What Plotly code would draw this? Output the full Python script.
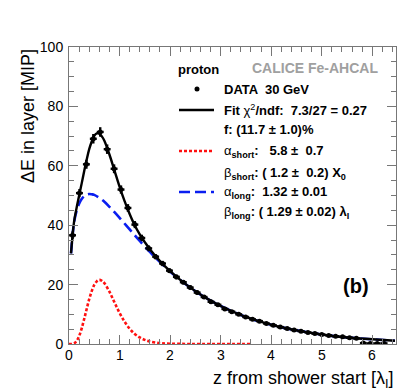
import plotly.graph_objects as go

# ---- data points (z from shower start [lambda_I], Delta E [MIP]) ----
z_data = [0.07, 0.207, 0.344, 0.481, 0.618, 0.755, 0.892, 1.029, 1.166, 1.303,
          1.44, 1.577, 1.714, 1.851, 1.988, 2.125, 2.262, 2.399, 2.536, 2.673,
          2.81, 2.947, 3.084, 3.221, 3.358, 3.495, 3.632, 3.769, 3.906, 4.043,
          4.18, 4.317, 4.454, 4.591, 4.728, 4.865, 5.002, 5.139, 5.276, 5.413,
          5.55, 5.687, 5.824, 5.961, 6.098, 6.235]
e_data = [36.6, 50.8, 60.5, 69.1, 71.4, 65.6, 59.0, 52.0, 45.8, 40.2,
          35.7, 32.2, 29.4, 27.1, 24.7, 22.6, 20.8, 19.0, 17.3, 15.8,
          14.2, 13.2, 11.8, 10.9, 10.0, 9.1, 8.3, 7.7, 6.9, 6.3,
          5.7, 5.2, 4.7, 4.3, 3.9, 3.5, 3.2, 2.9, 2.6, 2.4,
          2.1, 1.9, 0.3, 0.2, 0.2, 0.2]
e_err = [1.3, 1.4, 1.5, 1.6, 1.6, 1.6, 1.5, 1.4, 1.3, 1.2,
         1.1, 1.0, 0.9, 0.9, 0.8, 0.8, 0.7, 0.7, 0.7, 0.6,
         0.6, 0.6, 0.5, 0.5, 0.5, 0.5, 0.5, 0.4, 0.4, 0.4,
         0.4, 0.4, 0.4, 0.4, 0.4, 0.4, 0.4, 0.4, 0.4, 0.4,
         0.4, 0.4, 0.4, 0.4, 0.4, 0.4]
z_halfbin = [0.0685] * len(z_data)

# ---- total fit (black) ----
z_fit = [0.04, 0.1, 0.15, 0.2, 0.25, 0.3, 0.35, 0.4, 0.45, 0.5, 0.55, 0.6, 0.65,
         0.7, 0.8, 0.9, 1.0, 1.1, 1.2, 1.3, 1.4, 1.5, 1.6, 1.8, 2.0, 2.25, 2.5,
         2.75, 3.0, 3.5, 4.0, 4.5, 5.0, 5.5, 6.0, 6.45]
e_fit = [30.5, 41.1, 45.8, 49.9, 54.0, 58.2, 62.1, 65.6, 68.2, 70.1, 70.9, 70.8, 69.9,
         68.4, 63.8, 58.4, 53.0, 48.1, 43.8, 40.0, 36.9, 34.3, 31.9, 27.9, 24.5, 20.9, 17.8,
         15.1, 12.8, 9.1, 6.5, 4.6, 3.2, 2.2, 1.6, 1.1]

# ---- long component (blue dashed) ----
z_long = [0.04, 0.1, 0.15, 0.2, 0.25, 0.3, 0.35, 0.4, 0.45, 0.5, 0.6, 0.7, 0.8, 0.9,
          1.0, 1.2, 1.4, 1.6, 1.8, 2.0, 2.25, 2.5, 2.75, 3.0, 3.5, 4.0, 4.5, 5.0,
          5.5, 6.0, 6.45]
e_long = [30.5, 40.9, 44.8, 47.2, 48.8, 49.8, 50.3, 50.5, 50.4, 50.2, 49.2, 47.9, 46.2, 44.4,
          42.5, 38.6, 34.7, 31.0, 27.6, 24.4, 20.9, 17.8, 15.1, 12.8, 9.1, 6.5, 4.6, 3.2,
          2.2, 1.6, 1.1]

# ---- short component (red dotted) ----
z_short = [0.0, 0.05, 0.1, 0.15, 0.2, 0.25, 0.3, 0.35, 0.4, 0.45, 0.5, 0.55, 0.6, 0.65,
           0.7, 0.8, 0.9, 1.0, 1.1, 1.2, 1.3, 1.4, 1.5, 1.6, 1.8, 2.0, 2.3, 2.6, 3.0, 3.6]
e_short = [0.0, 0.01, 0.2, 1.0, 2.65, 5.2, 8.4, 11.8, 15.1, 17.8, 19.9, 21.1, 21.6, 21.3,
           20.5, 17.6, 14.0, 10.5, 7.5, 5.15, 3.4, 2.2, 1.4, 0.86, 0.31, 0.1, 0.02, 0.0, 0.0, 0.0]

x_ticks = [0, 1, 2, 3, 4, 5, 6]
y_ticks = [0, 20, 40, 60, 80, 100]

FONT = "Liberation Sans, Arial, Helvetica, sans-serif"

fig = go.Figure()

fig.add_trace(go.Scatter(x=z_short, y=e_short, mode="lines", line_shape="spline",
                         line=dict(color="#ff1010", width=2.6, dash="3px,2px"),
                         showlegend=False, hoverinfo="skip"))
fig.add_trace(go.Scatter(x=z_long, y=e_long, mode="lines", line_shape="spline",
                         line=dict(color="#0a1ef0", width=2.6, dash="11px,5px"),
                         showlegend=False, hoverinfo="skip"))
fig.add_trace(go.Scatter(x=z_fit, y=e_fit, mode="lines", line_shape="spline",
                         line=dict(color="black", width=2.4),
                         showlegend=False, hoverinfo="skip"))
fig.add_trace(go.Scatter(x=z_data, y=e_data, mode="markers",
                         marker=dict(color="black", size=5, symbol="circle"),
                         error_y=dict(type="data", array=e_err, color="black", thickness=2.4, width=0),
                         error_x=dict(type="data", array=z_halfbin, color="black", thickness=2.4, width=0),
                         showlegend=False, hoverinfo="skip"))

axis_common = dict(showgrid=False, zeroline=False, showline=True, linecolor="#777",
                   linewidth=1, mirror="ticks", ticks="inside", tickcolor="#777",
                   tickwidth=1, ticklen=9,
                   tickfont=dict(family=FONT, size=14, color="black"))

fig.update_xaxes(range=[0, 6.47], tickvals=x_ticks, showticklabels=False,
                 minor=dict(ticks="inside", ticklen=5, tickcolor="#777", dtick=0.2, tick0=0),
                 **axis_common)
fig.update_yaxes(range=[0, 100], tickvals=y_ticks, ticktext=[str(v) for v in y_ticks],
                 minor=dict(ticks="inside", ticklen=5, tickcolor="#777", dtick=5, tick0=0),
                 ticklabelstandoff=2, **axis_common)

L, R, T, B = 61, 21, 39, 56
W, H = 409, 392
pw, ph = W - L - R, H - T - B

def px(xp):
    return (xp - L) / pw

def py(yp):
    return (H - B - yp) / ph

ann = []
def text(x, y, s, size=13, color="black", xanchor="left", yanchor="middle", angle=0, xref="paper"):
    ann.append(dict(x=x, y=y, xref=xref, yref="paper", text=s, showarrow=False,
                    xanchor=xanchor, yanchor=yanchor, textangle=angle,
                    font=dict(family=FONT, size=size, color=color)))

# x tick labels placed close to the axis (ROOT style)
for v in x_ticks:
    text(v, py(347), str(v), 14, xanchor="center", xref="x")

text(px(168), py(62), "<b>proton</b>", 13)
text(px(242), py(60), "<b>CALICE Fe-AHCAL</b>", 14, color="#a0a0a0")
text(px(214), py(81), "<b>DATA  30 GeV</b>", 13)
text(px(214), py(102), "<b>Fit </b>χ<sup>2</sup><b>/ndf:  7.3/27 = 0.27</b>", 13)
text(px(214), py(122), "<b>f: (11.7 ± 1.0)%</b>", 13)
text(px(214), py(143), "α<sub><b>short</b></sub><b>:   5.8 ±  0.7</b>", 13)
text(px(214), py(165), "β<sub><b>short</b></sub><b>: ( 1.2 ±  0.2) X<sub>0</sub></b>", 13)
text(px(214), py(184), "α<sub><b>long</b></sub><b>:  1.32 ± 0.01</b>", 13)
text(px(214), py(204), "β<sub><b>long</b></sub><b>: ( 1.29 ± 0.02) λ<sub>I</sub></b>", 13)
text(px(333), py(278), "<b>(b)</b>", 20)
text(1.0, py(371), "z from shower start [λ<sub>I</sub>]", 18, xanchor="right")
text(px(20), 1.0, "ΔE in layer [MIP]", 18, xanchor="center", yanchor="top", angle=-90)

shapes = [
    dict(type="line", xref="paper", yref="paper", x0=px(171), x1=px(206), y0=py(102), y1=py(102),
         line=dict(color="black", width=2.4)),
    dict(type="line", xref="paper", yref="paper", x0=px(171), x1=px(206), y0=py(143), y1=py(143),
         line=dict(color="#ff1010", width=2.6, dash="3px,2px")),
    dict(type="line", xref="paper", yref="paper", x0=px(171), x1=px(206), y0=py(184), y1=py(184),
         line=dict(color="#0a1ef0", width=2.6, dash="11px,5px")),
    dict(type="circle", xref="paper", yref="paper", x0=px(186.5), x1=px(191.5), y0=py(78.5), y1=py(83.5),
         fillcolor="black", line=dict(color="black", width=0)),
]

fig.update_layout(width=W, height=H, margin=dict(l=L, r=R, t=T, b=B),
                  paper_bgcolor="white", plot_bgcolor="white",
                  annotations=ann, shapes=shapes, showlegend=False)

fig.write_html("out.html")
